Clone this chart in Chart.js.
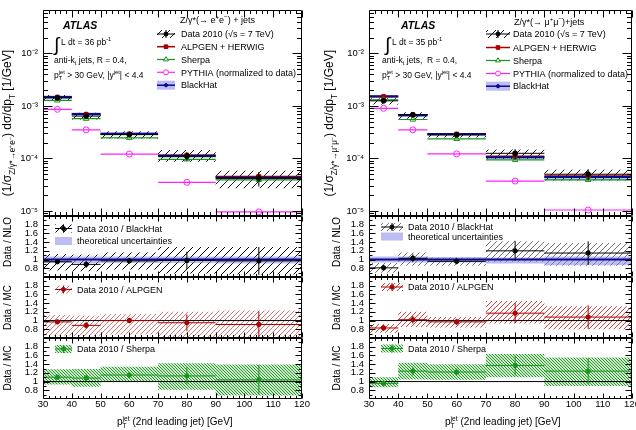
<!DOCTYPE html>
<html lang="en">
<head>
<meta charset="UTF-8">
<title>Z+jets: 2nd leading jet pT</title>
<script src="https://cdn.jsdelivr.net/npm/chart.js"></script>
<style>
  body { margin: 0; background: #fff; }
  #wrap { position: relative; width: 636px; height: 430px; overflow: hidden; }
  #wrap canvas { position: absolute; top: 0; }
</style>
</head>
<body>
<div id="wrap"></div>
<script>
// ---- binning and axis ticks ----
const binEdges = [30, 40, 50, 70, 90, 120];
const binCenters = [35, 45, 60, 80, 105];
const xTicks = [30, 40, 50, 60, 70, 80, 90, 100, 110, 120];
const logTicks = [1e-5, 1e-4, 1e-3, 1e-2];
const ratioTicks = [0.8, 1, 1.2, 1.4, 1.6, 1.8];

// ---- Z -> ee, normalized cross section [1/GeV] ----
const eeData      = [1.42e-3, 6.4e-4, 2.85e-4, 1.10e-4, 4.2e-5];
const eeStatLo    = [1.38e-3, 5.9e-4, 2.68e-4, 8.9e-5, 2.9e-5];
const eeStatHi    = [1.46e-3, 6.9e-4, 3.02e-4, 1.31e-4, 5.5e-5];
const eeSysLo     = [1.24e-3, 5.5e-4, 2.4e-4, 8.6e-5, 2.7e-5];
const eeSysHi     = [1.62e-3, 7.4e-4, 3.3e-4, 1.44e-4, 5.8e-5];
const eeAlpgen    = [1.46e-3, 6.9e-4, 2.9e-4, 1.15e-4, 4.5e-5];
const eeSherpa    = [1.27e-3, 5.7e-4, 2.45e-4, 9.6e-5, 3.9e-5];
const eePythia    = [8.6e-4, 3.5e-4, 1.21e-4, 3.5e-5, 9.6e-6];
const eeBlackHat  = [1.48e-3, 7.0e-4, 2.95e-4, 1.12e-4, 4.3e-5];
const eeBHLo      = [1.37e-3, 6.5e-4, 2.72e-4, 1.03e-4, 3.95e-5];
const eeBHHi      = [1.58e-3, 7.5e-4, 3.15e-4, 1.20e-4, 4.6e-5];
// ratios
const eeRatioBH   = [0.95, 0.89, 0.97, 0.98, 0.97];
const eeErrBH     = [0.03, 0.08, 0.06, 0.20, 0.32];
const eeSysBHLo   = [0.75, 0.73, 0.77, 0.68, 0.66];
const eeSysBHHi   = [1.13, 1.11, 1.16, 1.29, 1.29];
const eeTheoryLo  = [0.92, 0.92, 0.92, 0.92, 0.91];
const eeTheoryHi  = [1.07, 1.07, 1.07, 1.07, 1.07];
const eeRatioAlp  = [0.97, 0.89, 1.00, 0.95, 0.91];
const eeErrAlp    = [0.03, 0.08, 0.06, 0.19, 0.30];
const eeSysAlpLo  = [0.66, 0.64, 0.68, 0.62, 0.61];
const eeSysAlpHi  = [1.13, 1.11, 1.15, 1.20, 1.23];
const eeRatioSh   = [1.10, 1.08, 1.15, 1.13, 1.04];
const eeErrSh     = [0.03, 0.07, 0.07, 0.20, 0.34];
const eeSysShLo   = [0.93, 0.88, 1.00, 0.81, 0.68];
const eeSysShHi   = [1.28, 1.29, 1.34, 1.42, 1.39];

// ---- Z -> mumu ----
const mmData      = [1.25e-3, 6.8e-4, 2.8e-4, 1.25e-4, 5.0e-5];
const mmStatLo    = [1.17e-3, 6.2e-4, 2.6e-4, 9.8e-5, 3.8e-5];
const mmStatHi    = [1.33e-3, 7.4e-4, 3.0e-4, 1.5e-4, 6.2e-5];
const mmSysLo     = [1.06e-3, 5.7e-4, 2.5e-4, 9.8e-5, 3.8e-5];
const mmSysHi     = [1.40e-3, 7.6e-4, 3.05e-4, 1.47e-4, 6.1e-5];
const mmAlpgen    = [1.50e-3, 6.7e-4, 2.9e-4, 1.1e-4, 4.6e-5];
const mmSherpa    = [1.30e-3, 5.5e-4, 2.35e-4, 9.4e-5, 3.9e-5];
const mmPythia    = [9.0e-4, 3.5e-4, 1.22e-4, 3.7e-5, 1.04e-5];
const mmBlackHat  = [1.52e-3, 6.6e-4, 2.9e-4, 1.05e-4, 4.4e-5];
const mmBHLo      = [1.41e-3, 6.15e-4, 2.7e-4, 9.7e-5, 3.85e-5];
const mmBHHi      = [1.62e-3, 7.0e-4, 3.05e-4, 1.11e-4, 4.65e-5];
const mmRatioBH   = [0.81, 1.03, 0.96, 1.20, 1.15];
const mmErrBH     = [0.06, 0.09, 0.07, 0.23, 0.27];
const mmSysBHLo   = [0.70, 0.86, 0.86, 0.94, 0.86];
const mmSysBHHi   = [0.92, 1.16, 1.05, 1.42, 1.38];
const mmTheoryLo  = [0.93, 0.93, 0.93, 0.91, 0.87];
const mmTheoryHi  = [1.07, 1.07, 1.06, 1.05, 1.07];
const mmRatioAlp  = [0.83, 1.02, 0.97, 1.17, 1.08];
const mmErrAlp    = [0.06, 0.09, 0.07, 0.23, 0.27];
const mmSysAlpLo  = [0.72, 0.85, 0.84, 0.93, 0.80];
const mmSysAlpHi  = [0.92, 1.20, 1.08, 1.45, 1.33];
const mmRatioSh   = [0.96, 1.24, 1.22, 1.37, 1.24];
const mmErrSh     = [0.05, 0.10, 0.08, 0.23, 0.30];
const mmSysShLo   = [0.87, 1.05, 1.04, 1.10, 0.90];
const mmSysShHi   = [1.10, 1.43, 1.40, 1.63, 1.55];

// ---- styling ----
const FONT = "'Liberation Sans', Arial, Helvetica, sans-serif";
const RED = '#a80000', GREEN = '#16961a', MAGENTA = '#ff22ff', NAVY = '#0a0a8c';
const BLUEBAND = 'rgba(135,135,235,0.55)';
Chart.defaults.font.family = FONT;
Chart.defaults.color = '#000';

function hatch(color, size, width, dir, bg) {
  const c = document.createElement('canvas');
  c.width = c.height = size;
  const g = c.getContext('2d');
  if (bg) { g.fillStyle = bg; g.fillRect(0, 0, size, size); }
  g.strokeStyle = color; g.lineWidth = width;
  g.beginPath();
  for (let k = -1; k <= 1; k++) {
    if (dir > 0) { g.moveTo(k * size, size); g.lineTo(k * size + size, 0); }
    else { g.moveTo(k * size, 0); g.lineTo(k * size + size, size); }
  }
  g.stroke();
  return g.createPattern(c, 'repeat');
}
const hatchBlackMain = hatch('#000', 8, 0.9, 1);
const hatchBlackE = hatch('#000', 8, 1, 1);
const hatchGreyM = hatch('#333', 6, 0.7, 1);
const hatchRedE = hatch('#c43a3a', 5, 0.7, 1);
const hatchRedM = hatch('#cc1111', 5, 0.8, 1);
const hatchGreen = hatch('#1f8f1f', 3.5, 0.9, -1, 'rgba(170,220,170,0.6)');

// ---- dataset helpers ----
function stepLine(vals) {
  const pts = [];
  vals.forEach((v, i) => pts.push({ x: binEdges[i], y: v }, { x: binEdges[i + 1], y: v }, { x: binEdges[i + 1], y: null }));
  return pts;
}
function stepBand(vals) {
  const pts = [];
  vals.forEach((v, i) => pts.push({ x: binEdges[i], y: v }, { x: binEdges[i + 1], y: v }));
  return pts;
}
function steps(vals, color, width, order) {
  return { data: stepLine(vals), borderColor: color, borderWidth: width, pointRadius: 0, fill: false, spanGaps: false, order };
}
function band(lo, hi, fill, order) {
  return [
    { data: stepBand(hi), borderColor: 'rgba(0,0,0,0)', borderWidth: 0, pointRadius: 0, fill: '+1', backgroundColor: fill, order },
    { data: stepBand(lo), borderColor: 'rgba(0,0,0,0)', borderWidth: 0, pointRadius: 0, fill: false, order }
  ];
}
function errBars(lo, hi, color, order) {
  const pts = [];
  binCenters.forEach((c, i) => pts.push({ x: c, y: lo[i] }, { x: c, y: hi[i] }, { x: c, y: null }));
  return { data: pts, borderColor: color, borderWidth: 1, pointRadius: 0, fill: false, spanGaps: false, order };
}
function marks(vals, style, color, bg, radius, order) {
  return {
    data: binCenters.map((c, i) => ({ x: c, y: vals[i] })), showLine: false,
    pointStyle: style, pointRadius: radius, pointBorderColor: color, pointBackgroundColor: bg,
    pointBorderWidth: 1, order
  };
}
function mainSets(d) {
  return [
    marks(d.data, 'circle', '#000', '#000', 2.4, 0),
    errBars(d.statLo, d.statHi, '#000', 1),
    steps(d.data, '#000', 1, 1),
    marks(d.pythia, 'circle', MAGENTA, 'rgba(255,255,255,0)', 3, 2),
    marks(d.sherpa, 'triangle', GREEN, 'rgba(255,255,255,0)', 3.2, 2),
    marks(d.alpgen, 'rect', RED, RED, 2.8, 2),
    marks(d.bh, 'circle', NAVY, NAVY, 1.8, 2),
    steps(d.bh, NAVY, 2, 4),
    steps(d.alpgen, RED, 1.5, 5),
    steps(d.sherpa, GREEN, 1.2, 5),
    steps(d.pythia, MAGENTA, 1.2, 6),
    ...band(d.sysLo, d.sysHi, hatchBlackMain, 9),
    ...band(d.bhLo, d.bhHi, BLUEBAND, 10)
  ];
}
function ratioSets(r, err, sysLo, sysHi, color, fill, refColor, refWidth, theoryLo, theoryHi) {
  const sets = [
    marks(r, 'circle', color, color, 2.2, 0),
    errBars(r.map((v, i) => v - err[i]), r.map((v, i) => v + err[i]), color, 1),
    steps(r, color, 1, 1),
    { data: [{ x: 30, y: 1 }, { x: 120, y: 1 }], borderColor: refColor, borderWidth: refWidth, pointRadius: 0, fill: false, order: 3 },
    ...band(sysLo, sysHi, fill, 8)
  ];
  if (theoryLo) sets.push(...band(theoryLo, theoryHi, BLUEBAND, 7));
  return sets;
}

// ---- text helpers ----
function fontStr(size, weight) { return (weight ? weight + ' ' : '') + size + 'px ' + FONT; }
function richWidth(ctx, parts, size) {
  let w = 0;
  for (const p of parts) {
    if (typeof p === 'string') { ctx.font = fontStr(size); w += ctx.measureText(p).width; }
    else {
      ctx.font = fontStr(size * 0.68);
      w += p[1] === 'ss' ? Math.max(ctx.measureText(p[0]).width, ctx.measureText(p[2]).width) : ctx.measureText(p[0]).width;
    }
  }
  return w;
}
function drawRich(ctx, x, y, parts, size) {
  let cx = x;
  for (const p of parts) {
    if (typeof p === 'string') {
      ctx.font = fontStr(size); ctx.fillText(p, cx, y); cx += ctx.measureText(p).width;
    } else {
      ctx.font = fontStr(size * 0.68);
      if (p[1] === 'ss') {
        ctx.fillText(p[0], cx, y + size * 0.28);
        ctx.fillText(p[2], cx, y - size * 0.45);
        cx += Math.max(ctx.measureText(p[0]).width, ctx.measureText(p[2]).width);
      } else {
        ctx.fillText(p[0], cx, y + (p[1] === 'sub' ? size * 0.28 : -size * 0.42));
        cx += ctx.measureText(p[0]).width;
      }
    }
  }
}
function drawRotated(ctx, cx, cy, parts, size, alignEnd) {
  const w = richWidth(ctx, parts, size);
  ctx.save();
  ctx.translate(cx, cy); ctx.rotate(-Math.PI / 2);
  drawRich(ctx, alignEnd ? -w : -w / 2, size * 0.35, parts, size);
  ctx.restore();
}

// ---- legend glyphs ----
function gMarker(ctx, x, y, style, color, bg, r) {
  ctx.save(); ctx.strokeStyle = color; ctx.fillStyle = bg; ctx.lineWidth = 1;
  ctx.beginPath();
  if (style === 'circle') ctx.arc(x, y, r, 0, Math.PI * 2);
  else if (style === 'rect') ctx.rect(x - r * 0.7, y - r * 0.7, r * 1.4, r * 1.4);
  else { ctx.moveTo(x, y - r); ctx.lineTo(x + r * 0.87, y + r * 0.5); ctx.lineTo(x - r * 0.87, y + r * 0.5); ctx.closePath(); }
  ctx.fill(); ctx.stroke(); ctx.restore();
}
function gLine(ctx, x, y, w, color, lw) {
  ctx.save(); ctx.strokeStyle = color; ctx.lineWidth = lw;
  ctx.beginPath(); ctx.moveTo(x - w / 2, y); ctx.lineTo(x + w / 2, y); ctx.stroke(); ctx.restore();
}
function gBox(ctx, x, y, w, h, fill) {
  ctx.save(); ctx.fillStyle = fill; ctx.fillRect(x - w / 2, y - h / 2, w, h); ctx.restore();
}
function gData(ctx, x, y, w, color, fill) {
  gBox(ctx, x, y, w, 8, fill);
  gLine(ctx, x, y, w, color, 1);
  ctx.save(); ctx.strokeStyle = color; ctx.beginPath(); ctx.moveTo(x, y - 4); ctx.lineTo(x, y + 4); ctx.stroke(); ctx.restore();
  gMarker(ctx, x, y, 'circle', color, color, 2);
}

// ---- frame with inward ticks on all sides ----
const atlasFrame = {
  id: 'atlasFrame',
  afterDatasetsDraw(chart, args, o) {
    const { ctx, chartArea: a } = chart;
    const xs = chart.scales.x, ys = chart.scales.y;
    const L = Math.round(a.left) + 0.5, R = Math.round(a.right) - 0.5;
    const T = Math.round(a.top) + 0.5, B = Math.round(a.bottom) - 0.5;
    ctx.save();
    ctx.strokeStyle = '#000'; ctx.lineWidth = 1;
    ctx.beginPath();
    ctx.rect(L, T, R - L, B - T);
    for (let v = 30; v <= 120; v += 2) {
      const px = Math.round(xs.getPixelForValue(v)) + 0.5;
      const len = v % 10 === 0 ? o.xLen : o.xLen / 2;
      ctx.moveTo(px, B); ctx.lineTo(px, B - len);
      ctx.moveTo(px, T); ctx.lineTo(px, T + len);
    }
    const yt = [];
    if (o.log) {
      for (let e = -6; e <= -1; e++) for (let k = 1; k <= 9; k++) yt.push({ v: k * Math.pow(10, e), major: k === 1 });
    } else {
      for (let k = 6; k <= 20; k++) yt.push({ v: k / 10, major: k % 2 === 0 });
    }
    for (const t of yt) {
      const py = Math.round(ys.getPixelForValue(t.v)) + 0.5;
      if (py < T || py > B) continue;
      const len = t.major ? o.yLen : o.yLen / 2;
      ctx.moveTo(L, py); ctx.lineTo(L + len, py);
      ctx.moveTo(R, py); ctx.lineTo(R - len, py);
    }
    ctx.stroke();
    ctx.restore();
  }
};

const SUP = { '-': '⁻', '0': '⁰', '1': '¹', '2': '²', '3': '³', '4': '⁴', '5': '⁵', '6': '⁶', '7': '⁷', '8': '⁸', '9': '⁹' };
const toSup = n => String(n).split('').map(c => SUP[c]).join('');

function makeChart(cfg) {
  const canvas = document.createElement('canvas');
  canvas.width = 318; canvas.height = 430;
  canvas.style.left = cfg.col + 'px';
  document.getElementById('wrap').appendChild(canvas);
  const yW = 40;
  const xH = cfg.showX ? 430 - cfg.y1 : 0;
  const y = cfg.log ? {
    type: 'logarithmic', min: 8e-6, max: 0.067,
    afterBuildTicks: s => { s.ticks = logTicks.map(v => ({ value: v })); },
    ticks: { callback: v => '10' + toSup(Math.round(Math.log10(v))) }
  } : {
    type: 'linear', min: 0.6, max: 2.0,
    afterBuildTicks: s => { s.ticks = ratioTicks.map(v => ({ value: v })); },
    ticks: { callback: v => v === 1 ? '1' : v.toFixed(1) }
  };
  Object.assign(y.ticks, { padding: 5, autoSkip: false, font: { size: 9.5 } });
  Object.assign(y, {
    grid: { display: false, drawTicks: false }, border: { display: false },
    afterFit: s => { s.width = yW; s.paddingTop = 0; s.paddingBottom = 0; }
  });
  return new Chart(canvas, {
    type: 'line',
    data: { datasets: cfg.datasets },
    options: {
      responsive: false, animation: false, devicePixelRatio: 1,
      layout: {
        autoPadding: false,
        padding: { left: cfg.x0 - cfg.col - yW, right: cfg.col + 318 - cfg.x1, top: cfg.y0, bottom: 430 - cfg.y1 - xH }
      },
      plugins: {
        legend: { display: false }, tooltip: { enabled: false },
        atlasFrame: { log: cfg.log, xLen: cfg.log ? 7 : 5, yLen: cfg.log ? 9 : 6 }
      },
      scales: {
        x: {
          type: 'linear', min: 30, max: 120, display: !!cfg.showX,
          grid: { display: false, drawTicks: false }, border: { display: false },
          afterBuildTicks: s => { s.ticks = xTicks.map(v => ({ value: v })); },
          ticks: { autoSkip: false, maxRotation: 0, padding: 0, font: { size: 9.5 } },
          afterFit: s => { s.height = xH; s.paddingLeft = 0; s.paddingRight = 0; }
        },
        y
      }
    },
    plugins: [atlasFrame, { id: 'decor', afterDraw: c => cfg.decor(c.ctx) }]
  });
}

// ---- column layouts (pixel positions of text only) ----
const COLS = {
  e: {
    col: 0, x0: 43, x1: 302, ttlX: 7, rtX: 7, atlasX: 63, intX: 54, lumiX: 61, infoX: 54,
    legTitleX: 180, legSymX: 166, legSymW: 18, legTextX: 181, legY: [34, 46.7, 59.5, 72.3, 85.2], legTitleY: 20,
    rSymX: 63.5, rSymW: 17, rTextX: 77, rY1: 228.5, rY1b: 241, rY2: 289.5, rY3: 349,
    xTitleX: 117, lumi: '36', hatchR1: hatchBlackE, hatchR2: hatchRedE,
    lep: ['Z/γ*(→ e', ['+', 'sup'], 'e', ['−', 'sup'], ') + jets'], sub: 'Z/γ*→e⁺e⁻'
  },
  m: {
    col: 318, x0: 369, x1: 632, ttlX: 11, rtX: 18.5, atlasX: 83, intX: 67, lumiX: 74, infoX: 64,
    legTitleX: 196, legSymX: 180, legSymW: 24, legTextX: 195, legY: [34, 47.5, 60.5, 73.5, 86.2], legTitleY: 22,
    rSymX: 74, rSymW: 22, rTextX: 90, rY1: 227, rY1b: 236.5, rY2: 287, rY3: 348.5,
    xTitleX: 127, lumi: '35', hatchR1: hatchGreyM, hatchR2: hatchRedM,
    lep: ['Z/γ*(→ μ', ['+', 'sup'], 'μ', ['−', 'sup'], ')+jets'], sub: 'Z/γ*→μ⁺μ⁻'
  }
};

function mainDecor(P) {
  return ctx => {
    ctx.save();
    ctx.fillStyle = '#000'; ctx.textBaseline = 'alphabetic';
    ctx.font = fontStr(10.5, 'italic bold'); ctx.fillText('ATLAS', P.atlasX, 29);
    ctx.font = fontStr(19); ctx.fillText('∫', P.intX, 51);
    drawRich(ctx, P.lumiX, 45, ['L dt = ' + P.lumi + ' pb', ['-1', 'sup']], 8.5);
    drawRich(ctx, P.infoX, 63, ['anti-k', ['t', 'sub'], P.col ? ' jets,  R = 0.4,' : ' jets, R = 0.4,'], 8.5);
    drawRich(ctx, P.infoX, 78, ['p', ['T', 'ss', 'jet'], ' > 30 GeV, |y', ['jet', 'sup'], '| < 4.4'], 8.5);
    drawRich(ctx, P.legTitleX, P.legTitleY + 3, P.lep, 9);
    const names = ['Data 2010 (√s = 7 TeV)', 'ALPGEN + HERWIG', 'Sherpa', 'PYTHIA (normalized to data)', 'BlackHat'];
    names.forEach((n, i) => drawRich(ctx, P.legTextX, P.legY[i] + 3.2, [n], 9));
    const sx = P.legSymX, w = P.legSymW, Y = P.legY;
    gData(ctx, sx, Y[0], w, '#000', hatchBlackMain);
    gLine(ctx, sx, Y[1], w, RED, 1.5); gMarker(ctx, sx, Y[1], 'rect', RED, RED, 2.6);
    gLine(ctx, sx, Y[2], w, GREEN, 1.2); gMarker(ctx, sx, Y[2], 'tri', GREEN, '#fff', 2.8);
    gLine(ctx, sx, Y[3], w, MAGENTA, 1.2); gMarker(ctx, sx, Y[3], 'circle', MAGENTA, '#fff', 2.5);
    gBox(ctx, sx, Y[4], w, 9, BLUEBAND); gLine(ctx, sx, Y[4], w, NAVY, 1.5); gMarker(ctx, sx, Y[4], 'circle', NAVY, NAVY, 1.6);
    drawRotated(ctx, P.ttlX, 50, ['(1/σ', [P.sub, 'sub'], ') dσ/dp', ['T', 'sub'], ' [1/GeV]'], 12, true);
    ctx.restore();
  };
}
function ratioDecor(P, panel) {
  return ctx => {
    ctx.save();
    ctx.fillStyle = '#000'; ctx.textBaseline = 'alphabetic';
    if (panel === 1) {
      gData(ctx, P.rSymX, P.rY1, P.rSymW, '#000', P.hatchR1);
      drawRich(ctx, P.rTextX, P.rY1 + 3.2, ['Data 2010 / BlackHat'], 9);
      gBox(ctx, P.rSymX, P.rY1b, P.rSymW, 8, BLUEBAND);
      ctx.fillStyle = '#000';
      drawRich(ctx, P.rTextX, P.rY1b + 3.2, ['theoretical uncertainties'], 9);
      drawRotated(ctx, P.rtX, 242, ['Data / NLO'], 10, false);
    } else if (panel === 2) {
      gData(ctx, P.rSymX, P.rY2, P.rSymW, RED, P.hatchR2);
      drawRich(ctx, P.rTextX, P.rY2 + 3.2, ['Data 2010 / ALPGEN'], 9);
      drawRotated(ctx, P.rtX, 307.5, ['Data / MC'], 10, false);
    } else {
      gData(ctx, P.rSymX, P.rY3, P.rSymW, GREEN, hatchGreen);
      drawRich(ctx, P.rTextX, P.rY3 + 3.2, ['Data 2010 / Sherpa'], 9);
      drawRotated(ctx, P.rtX, 368, ['Data / MC'], 10, false);
      drawRich(ctx, P.xTitleX, 425, ['p', ['T', 'ss', 'jet'], ' (2nd leading jet) [GeV]'], 10);
    }
    ctx.restore();
  };
}

function buildColumn(P, d, r) {
  makeChart({ col: P.col, x0: P.x0, x1: P.x1, y0: 10, y1: 216, log: true, datasets: mainSets(d), decor: mainDecor(P) });
  makeChart({ col: P.col, x0: P.x0, x1: P.x1, y0: 216, y1: 277, datasets:
    ratioSets(r.bh, r.bhErr, r.bhLo, r.bhHi, '#000', P.hatchR1, NAVY, 2, r.thLo, r.thHi), decor: ratioDecor(P, 1) });
  makeChart({ col: P.col, x0: P.x0, x1: P.x1, y0: 277, y1: 338, datasets:
    ratioSets(r.alp, r.alpErr, r.alpLo, r.alpHi, RED, P.hatchR2, '#000', 1), decor: ratioDecor(P, 2) });
  makeChart({ col: P.col, x0: P.x0, x1: P.x1, y0: 338, y1: 399, showX: true, datasets:
    ratioSets(r.sh, r.shErr, r.shLo, r.shHi, GREEN, hatchGreen, '#000', 1), decor: ratioDecor(P, 3) });
}

buildColumn(COLS.e,
  { data: eeData, statLo: eeStatLo, statHi: eeStatHi, sysLo: eeSysLo, sysHi: eeSysHi, alpgen: eeAlpgen,
    sherpa: eeSherpa, pythia: eePythia, bh: eeBlackHat, bhLo: eeBHLo, bhHi: eeBHHi },
  { bh: eeRatioBH, bhErr: eeErrBH, bhLo: eeSysBHLo, bhHi: eeSysBHHi, thLo: eeTheoryLo, thHi: eeTheoryHi,
    alp: eeRatioAlp, alpErr: eeErrAlp, alpLo: eeSysAlpLo, alpHi: eeSysAlpHi,
    sh: eeRatioSh, shErr: eeErrSh, shLo: eeSysShLo, shHi: eeSysShHi });
buildColumn(COLS.m,
  { data: mmData, statLo: mmStatLo, statHi: mmStatHi, sysLo: mmSysLo, sysHi: mmSysHi, alpgen: mmAlpgen,
    sherpa: mmSherpa, pythia: mmPythia, bh: mmBlackHat, bhLo: mmBHLo, bhHi: mmBHHi },
  { bh: mmRatioBH, bhErr: mmErrBH, bhLo: mmSysBHLo, bhHi: mmSysBHHi, thLo: mmTheoryLo, thHi: mmTheoryHi,
    alp: mmRatioAlp, alpErr: mmErrAlp, alpLo: mmSysAlpLo, alpHi: mmSysAlpHi,
    sh: mmRatioSh, shErr: mmErrSh, shLo: mmSysShLo, shHi: mmSysShHi });
</script>
</body>
</html>
